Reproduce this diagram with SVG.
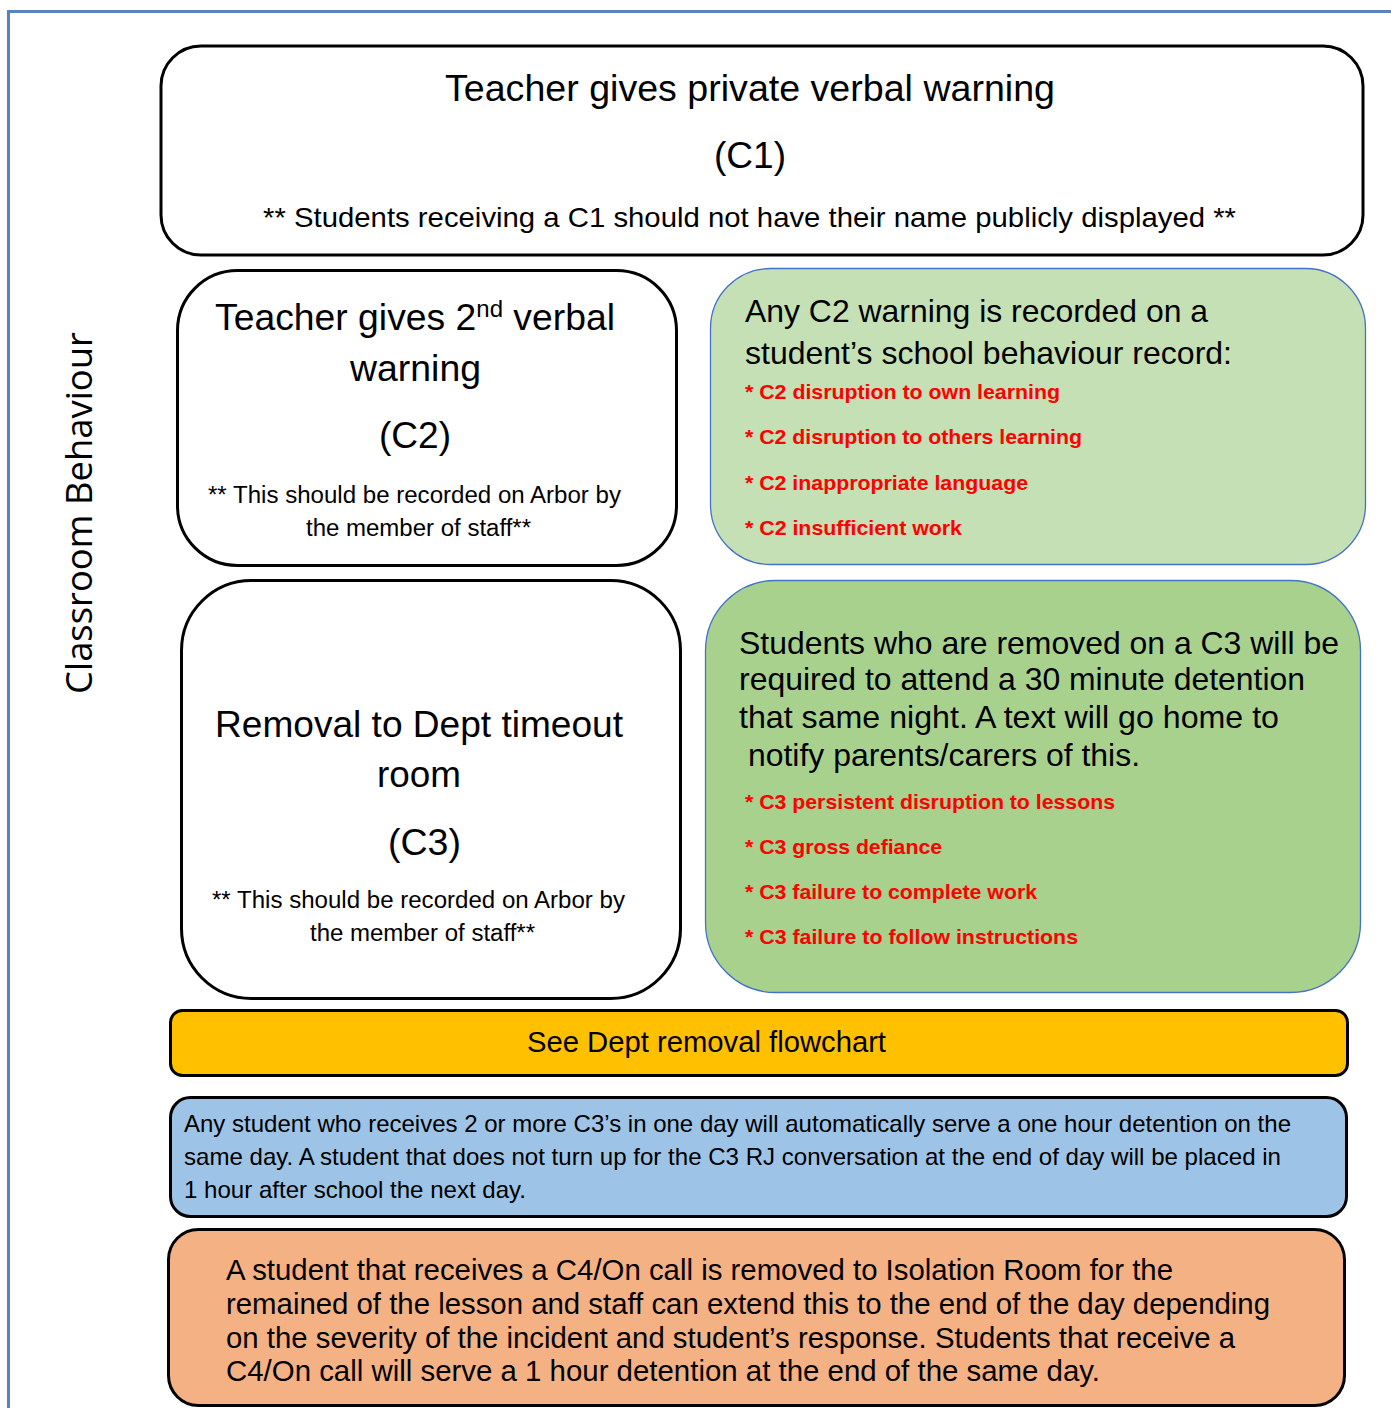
<svg xmlns="http://www.w3.org/2000/svg" width="1391" height="1408" viewBox="0 0 1391 1408">
  <style>
    .t { font-family: "Liberation Sans", Arial, sans-serif; fill: #000; }
    .c { text-anchor: middle; }
    .red { font-family: "Liberation Sans", Arial, sans-serif; font-weight: bold; fill: #ff0000; font-size: 21px; }
    .box { stroke: #000; stroke-width: 3; }
    .soft { stroke: #4472c4; stroke-width: 1.3; }
  </style>

  <rect width="1391" height="1408" fill="#fff"/>
  <!-- outer frame -->
  <path d="M8.5 1408 V11.5 H1391" fill="none" stroke="#5a84b8" stroke-width="3"/>

  <!-- side label -->
  <text transform="translate(92 513) rotate(-90)" text-anchor="middle"
        font-family="'Open Sans', 'Noto Sans', sans-serif" font-size="36.5" fill="#000" textLength="362" lengthAdjust="spacingAndGlyphs">Classroom Behaviour</text>

  <g id="c1">
    <rect class="box" x="161" y="46" width="1202" height="209" rx="40" fill="#fff"/>
    <text class="t c" x="750" y="101" font-size="37" textLength="610" lengthAdjust="spacingAndGlyphs">Teacher gives private verbal warning</text>
    <text class="t c" x="750" y="168" font-size="37" textLength="72" lengthAdjust="spacingAndGlyphs">(C1)</text>
    <text class="t c" x="749.5" y="227" font-size="28" textLength="973" lengthAdjust="spacingAndGlyphs">** Students receiving a C1 should not have their name publicly displayed **</text>
  </g>

  <g id="c2">
    <rect class="box" x="177.5" y="270.5" width="499" height="295" rx="60" fill="#fff"/>
    <text class="t c" x="415" y="330" font-size="37.3">Teacher gives 2<tspan font-size="24" dy="-13">nd</tspan><tspan dy="13"> verbal</tspan></text>
    <text class="t c" x="415.5" y="381" font-size="37" textLength="131" lengthAdjust="spacingAndGlyphs">warning</text>
    <text class="t c" x="415" y="448" font-size="37" textLength="72" lengthAdjust="spacingAndGlyphs">(C2)</text>
    <text class="t c" x="414.5" y="503" font-size="23.5" textLength="413" lengthAdjust="spacingAndGlyphs">** This should be recorded on Arbor by</text>
    <text class="t c" x="418.5" y="536" font-size="23.5" textLength="225" lengthAdjust="spacingAndGlyphs">the member of staff**</text>
  </g>

  <g id="c2-record">
    <rect class="soft" x="710.5" y="268.5" width="655" height="296" rx="60" fill="#c5e0b4"/>
    <text class="t" x="745" y="322" font-size="32" textLength="463" lengthAdjust="spacingAndGlyphs">Any C2 warning is recorded on a</text>
    <text class="t" x="745" y="364" font-size="32" textLength="487" lengthAdjust="spacingAndGlyphs">student’s school behaviour record:</text>
    <text class="red" x="745" y="399" textLength="315" lengthAdjust="spacingAndGlyphs">* C2 disruption to own learning</text>
    <text class="red" x="745" y="444" textLength="337" lengthAdjust="spacingAndGlyphs">* C2 disruption to others learning</text>
    <text class="red" x="745" y="490" textLength="283" lengthAdjust="spacingAndGlyphs">* C2 inappropriate language</text>
    <text class="red" x="745" y="535" textLength="217" lengthAdjust="spacingAndGlyphs">* C2 insufficient work</text>
  </g>

  <g id="c3">
    <rect class="box" x="181.5" y="580.5" width="499" height="418" rx="70" fill="#fff"/>
    <text class="t c" x="419" y="737" font-size="37" textLength="408" lengthAdjust="spacingAndGlyphs">Removal to Dept timeout</text>
    <text class="t c" x="419" y="787" font-size="37" textLength="84" lengthAdjust="spacingAndGlyphs">room</text>
    <text class="t c" x="424.5" y="855" font-size="37" textLength="73" lengthAdjust="spacingAndGlyphs">(C3)</text>
    <text class="t c" x="418.5" y="908" font-size="23.5" textLength="413" lengthAdjust="spacingAndGlyphs">** This should be recorded on Arbor by</text>
    <text class="t c" x="422.5" y="941" font-size="23.5" textLength="225" lengthAdjust="spacingAndGlyphs">the member of staff**</text>
  </g>

  <g id="c3-record">
    <rect class="soft" x="705.5" y="580.5" width="655" height="412" rx="70" fill="#a9d18e"/>
    <text class="t" x="739" y="654" font-size="32" textLength="600" lengthAdjust="spacingAndGlyphs">Students who are removed on a C3 will be</text>
    <text class="t" x="739" y="690" font-size="32" textLength="566" lengthAdjust="spacingAndGlyphs">required to attend a 30 minute detention</text>
    <text class="t" x="739" y="728" font-size="32" textLength="540" lengthAdjust="spacingAndGlyphs">that same night. A text will go home to</text>
    <text class="t" x="748" y="766" font-size="32" textLength="392" lengthAdjust="spacingAndGlyphs">notify parents/carers of this.</text>
    <text class="red" x="745" y="809" textLength="370" lengthAdjust="spacingAndGlyphs">* C3 persistent disruption to lessons</text>
    <text class="red" x="745" y="854" textLength="197" lengthAdjust="spacingAndGlyphs">* C3 gross defiance</text>
    <text class="red" x="745" y="899" textLength="292" lengthAdjust="spacingAndGlyphs">* C3 failure to complete work</text>
    <text class="red" x="745" y="944" textLength="333" lengthAdjust="spacingAndGlyphs">* C3 failure to follow instructions</text>
  </g>

  <g id="flowchart">
    <rect class="box" x="170.5" y="1010.5" width="1177" height="65" rx="12" fill="#ffc000"/>
    <text class="t c" x="706.5" y="1052" font-size="29" textLength="359" lengthAdjust="spacingAndGlyphs">See Dept removal flowchart</text>
  </g>

  <g id="two-c3">
    <rect class="box" x="170.5" y="1097.5" width="1176" height="119" rx="20" fill="#9dc3e6"/>
    <text class="t" x="184" y="1132" font-size="24" textLength="1107" lengthAdjust="spacingAndGlyphs">Any student who receives 2 or more C3’s in one day will automatically serve a one hour detention on the</text>
    <text class="t" x="184" y="1165" font-size="24" textLength="1097" lengthAdjust="spacingAndGlyphs">same day. A student that does not turn up for the C3 RJ conversation at the end of day will be placed in</text>
    <text class="t" x="184" y="1198" font-size="24" textLength="342" lengthAdjust="spacingAndGlyphs">1 hour after school the next day.</text>
  </g>

  <g id="c4">
    <rect class="box" x="168.5" y="1229.5" width="1176" height="176" rx="30" fill="#f4b183"/>
    <text class="t" x="226" y="1280" font-size="29" textLength="947" lengthAdjust="spacingAndGlyphs">A student that receives a C4/On call is removed to Isolation Room for the</text>
    <text class="t" x="226" y="1314" font-size="29" textLength="1044" lengthAdjust="spacingAndGlyphs">remained of the lesson and staff can extend this to the end of the day depending</text>
    <text class="t" x="226" y="1348" font-size="29" textLength="1009" lengthAdjust="spacingAndGlyphs">on the severity of the incident and student’s response. Students that receive a</text>
    <text class="t" x="226" y="1381" font-size="29" textLength="874" lengthAdjust="spacingAndGlyphs">C4/On call will serve a 1 hour detention at the end of the same day.</text>
  </g>

  <g id="connectors"></g>
</svg>
